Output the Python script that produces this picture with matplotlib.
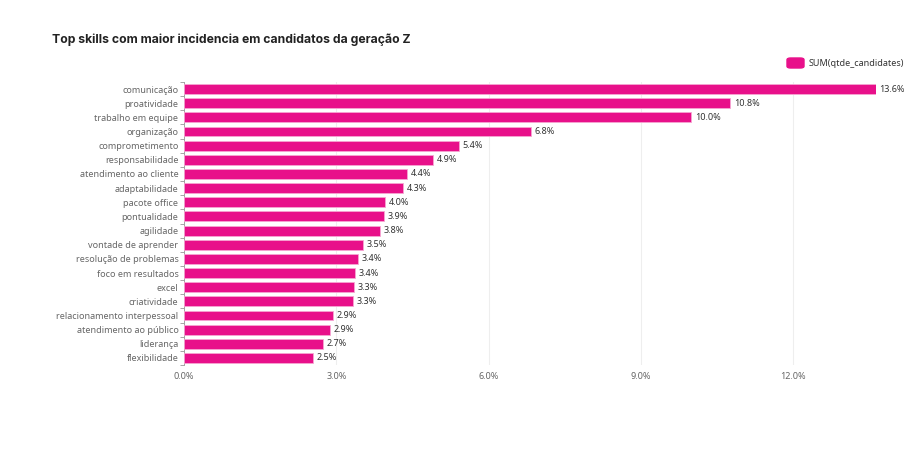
import matplotlib
matplotlib.use("Agg")
import matplotlib.pyplot as plt
from matplotlib.patches import FancyBboxPatch
from matplotlib.ticker import FuncFormatter, MultipleLocator

SKILLS = [
    "comunicação", "proatividade", "trabalho em equipe", "organização",
    "comprometimento", "responsabilidade", "atendimento ao cliente",
    "adaptabilidade", "pacote office", "pontualidade", "agilidade",
    "vontade de aprender", "resolução de problemas", "foco em resultados",
    "excel", "criatividade", "relacionamento interpessoal",
    "atendimento ao público", "liderança", "flexibilidade",
]
SHARE = [13.63, 10.76, 9.99, 6.84, 5.42, 4.90, 4.39, 4.31, 3.96, 3.94,
         3.86, 3.53, 3.43, 3.37, 3.34, 3.32, 2.94, 2.88, 2.74, 2.54]
LABELS = ["13.6%", "10.8%", "10.0%", "6.8%", "5.4%", "4.9%", "4.4%", "4.3%",
          "4.0%", "3.9%", "3.8%", "3.5%", "3.4%", "3.4%", "3.3%", "3.3%",
          "2.9%", "2.9%", "2.7%", "2.5%"]

PINK = "#E8108A"
W, H = 912, 453
FONT = "Noto Sans"

fig = plt.figure(figsize=(W / 100, H / 100), dpi=100)
ax = fig.add_axes([184 / W, 1 - 365 / H, (876 - 184) / W, (365 - 82) / H])

y = list(range(len(SKILLS)))
ax.barh(y, SHARE, height=0.7, color=PINK, edgecolor="#F6A6D2", linewidth=0.6,
        zorder=3)
for yi, v, lab in zip(y, SHARE, LABELS):
    ax.text(v + 0.07, yi, lab, va="center", ha="left", fontsize=6.5,
            color="#333333", family=FONT)

ax.set_xlim(0, max(SHARE))
ax.set_ylim(len(SKILLS) - 0.5, -0.5)
ax.xaxis.set_major_locator(MultipleLocator(3))
ax.xaxis.set_major_formatter(FuncFormatter(lambda v, _: f"{v:.1f}%"))
ax.set_yticks(y)
ax.set_yticklabels(SKILLS)
ax.set_yticks([i - 0.5 for i in range(len(SKILLS) + 1)], minor=True)
ax.tick_params(axis="y", which="major", length=0, pad=4, labelsize=6.5,
               labelcolor="#666666")
ax.tick_params(axis="y", which="minor", length=3, color="#999999", width=0.6)
ax.tick_params(axis="x", length=0, pad=5, labelsize=6.5, labelcolor="#666666")
for lab in ax.get_xticklabels() + ax.get_yticklabels():
    lab.set_family(FONT)
ax.grid(axis="x", color="#EEEEEE", linewidth=0.8, zorder=0)
for side in ("top", "right", "bottom"):
    ax.spines[side].set_visible(False)
ax.spines["left"].set_color("#999999")
ax.spines["left"].set_linewidth(0.6)

fig.text(52 / W, 1 - 40 / H, "Top skills com maior incidencia em candidatos da geração Z",
         fontsize=8.8, fontweight="bold", color="#222222", family="Inter",
         va="center", ha="left")

fig.patches.append(FancyBboxPatch((787 / W, 1 - 68 / H), 17 / W, 10 / H,
                                  boxstyle="round,pad=0,rounding_size=0.004",
                                  transform=fig.transFigure, color=PINK))
fig.text(809 / W, 1 - 63 / H, "SUM(qtde_candidates)", fontsize=6.5,
         color="#333333", family=FONT, va="center", ha="left")

fig.savefig("out.png", dpi=100, facecolor="white")
